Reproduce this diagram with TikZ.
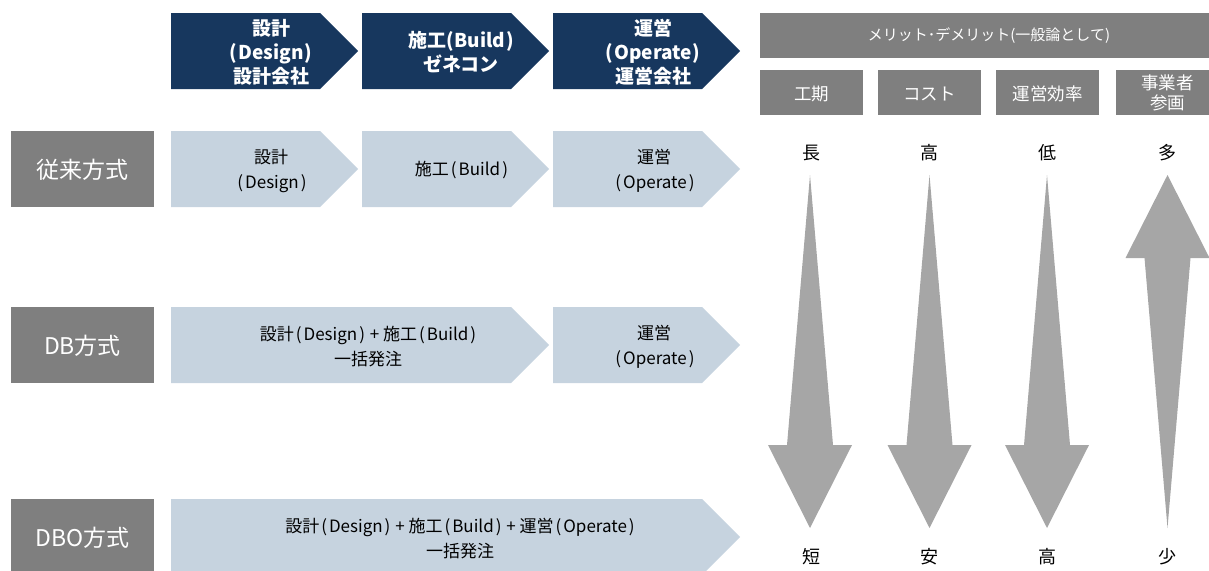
\documentclass[tikz,border=0pt]{standalone}
\usepackage{fontspec}
\setmainfont{Noto Sans CJK JP}
\definecolor{navy}{HTML}{17375E}
\definecolor{lightb}{HTML}{C6D3DF}
\definecolor{labgray}{HTML}{7F7F7F}
\definecolor{arrgray}{HTML}{A6A6A6}
\newcommand\myLP{\hspace{2pt}(\hspace{2pt}}
\newcommand\myRP{\hspace{2pt})\hspace{1pt}}
\newcommand\hdLP{(\hspace{1pt}}
\newcommand\hdRP{\hspace{1pt})}
\newcommand\chevshape[4]{% x1, xtip, ytop, colour
  \fill[#4] (#1,#3) -- ({#2-38},#3) -- (#2,{#3+38}) -- ({#2-38},{#3+76}) -- (#1,{#3+76}) -- cycle;}
\newcommand\downarr[1]{% centre x
  \fill[arrgray] (#1,175) -- ({#1+23},445) -- ({#1+42},445) -- (#1,528) -- ({#1-42},445) -- ({#1-23},445) -- cycle;}
\newcommand\uparr[1]{% centre x
  \fill[arrgray] (#1,528) -- ({#1+23},258) -- ({#1+42},258) -- (#1,175) -- ({#1-42},258) -- ({#1-23},258) -- cycle;}
\tikzset{
  hdtext/.style={text=white, font=\fontsize{19}{24}\selectfont\bfseries, align=center, inner sep=0},
  bodytext/.style={text=black, font=\fontsize{17}{25}\selectfont, align=center, inner sep=0},
  rowlab/.style={text=white, font=\fontsize{23}{26}\selectfont, inner sep=0},
  graybox/.style={fill=labgray},
  paneltext/.style={text=white, font=\fontsize{17.5}{20}\selectfont, align=center, inner sep=0},
  evaltext/.style={text=black, font=\fontsize{18}{20}\selectfont, inner sep=0},
}
\begin{document}
\begin{tikzpicture}[x=1pt,y=-1pt]
\useasboundingbox (0,0) rectangle (1209,570);
\clip (0,0) rectangle (1209,570);
% header chevrons
\chevshape{171}{358}{13}{navy}
\chevshape{362}{549}{13}{navy}
\chevshape{553}{740}{13}{navy}
\node[hdtext] (h1) at (271,52) {設計\\\hdLP Design\hdRP\\設計会社};
\node[hdtext] (h2) at (461,52) {施工\hdLP Build\hdRP\\ゼネコン};
\node[hdtext] (h3) at (653,52) {運営\\\hdLP Operate\hdRP\\運営会社};
% row 1
\fill[graybox] (11,131) rectangle (154,207);
\node[rowlab] (r1) at (82.5,170) {従来方式};
\chevshape{171}{358}{131}{lightb}
\chevshape{362}{549}{131}{lightb}
\chevshape{553}{740}{131}{lightb}
\node[bodytext] (a1) at (271,171) {設計\\\myLP Design\myRP};
\node[bodytext] (a2) at (462,170) {施工\myLP Build\myRP};
\node[bodytext] (a3) at (654,171) {運営\\\myLP Operate\myRP};
% row 2
\fill[graybox] (11,307) rectangle (154,383);
\node[rowlab] (r2) at (82.5,346) {DB方式};
\chevshape{171}{549}{307}{lightb}
\chevshape{553}{740}{307}{lightb}
\node[bodytext] (b1) at (368,347) {設計\myLP Design\myRP{} + 施工\myLP Build\myRP\\一括発注};
\node[bodytext] (b2) at (654,347) {運営\\\myLP Operate\myRP};
% row 3
\fill[graybox] (11,499) rectangle (154,575);
\node[rowlab] (r3) at (82.5,538) {DBO方式};
\chevshape{171}{740}{499}{lightb}
\node[bodytext] (c1) at (460,539) {設計\myLP Design\myRP{} + 施工\myLP Build\myRP{} + 運営\myLP Operate\myRP\\一括発注};
% right panel
\fill[graybox] (760,13) rectangle (1219,58);
\node[paneltext, font=\fontsize{15}{18}\selectfont] (p0) at (989,36) {メリット･デメリット(一般論として)};
\fill[graybox] (760,70) rectangle (863,115);
\fill[graybox] (878,70) rectangle (981,115);
\fill[graybox] (996,70) rectangle (1099,115);
\fill[graybox] (1116,70) rectangle (1219,115);
\node[paneltext] (p1) at (811.5,94) {工期};
\node[paneltext] (p2) at (929.5,94) {コスト};
\node[paneltext] (p3) at (1047.5,94) {運営効率};
\node[paneltext] (p4) at (1167.5,93) {事業者\\参画};
% arrows
\downarr{810}
\downarr{929.5}
\downarr{1047}
\uparr{1167.5}
\node[evaltext] (t1) at (811,153) {長};
\node[evaltext] (t2) at (929.5,153) {高};
\node[evaltext] (t3) at (1047,153) {低};
\node[evaltext] (t4) at (1167.5,153) {多};
\node[evaltext] (u1) at (811,557) {短};
\node[evaltext] (u2) at (929.5,557) {安};
\node[evaltext] (u3) at (1047,557) {高};
\node[evaltext] (u4) at (1167.5,557) {少};
\end{tikzpicture}
\end{document}
